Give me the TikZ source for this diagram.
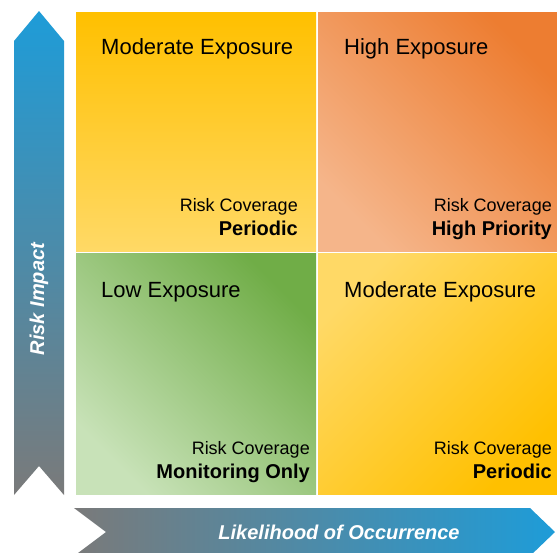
\documentclass[tikz,border=0pt]{standalone}
\usepackage{fontspec}
\setmainfont{Liberation Sans}
\usetikzlibrary{shadings}
\definecolor{cOrange}{HTML}{ED7D31}
\definecolor{cOrangeL}{HTML}{F5B58A}
\definecolor{cGold}{HTML}{FFC000}
\definecolor{cGoldL}{HTML}{FFD966}
\definecolor{cGreen}{HTML}{70AD47}
\definecolor{cGreenL}{HTML}{C8E2B8}
\definecolor{cBlue}{HTML}{1E9CD8}
\definecolor{cGray}{HTML}{7A7A7A}
\tikzset{
  quad/.style={minimum width=240pt, minimum height=239pt, inner sep=0pt, anchor=north west},
  title/.style={anchor=base west, inner sep=0pt, font=\fontsize{22}{24}\selectfont},
  cov/.style={anchor=base east, inner sep=0pt, font=\fontsize{18}{20}\selectfont},
  lvl/.style={anchor=base east, inner sep=0pt, font=\fontsize{20}{22}\selectfont\bfseries},
  axis/.style={inner sep=0pt, text=white, font=\fontsize{20}{22}\selectfont\bfseries\itshape}
}
\begin{document}
\begin{tikzpicture}[x=1pt,y=-1pt]
\useasboundingbox (0,0) rectangle (557,552);
% axis arrows
\shade[top color=cBlue, bottom color=cGray] (14,41) -- (39,11) -- (64,41) -- (64,495) -- (39,466) -- (14,495) -- cycle;
\shade[left color=cGray, right color=cBlue] (74,508) -- (530,508) -- (555,532) -- (530,556) -- (74,556) -- (106,532) -- cycle;
\node[axis, rotate=90] (yl) at (39,299) {Risk Impact};
\node[axis] (xl) at (339,532) {Likelihood of Occurrence};
% quadrants
\node[quad, shade, top color=cGold, bottom color=cGoldL] (tl) at (76,12) {};
\node[quad, shade, top color=cOrange, bottom color=cOrangeL, shading angle=-45] (tr) at (318,12) {};
\node[quad, shade, top color=cGreen, bottom color=cGreenL, shading angle=-45, minimum height=241pt] (bl) at (76,253) {};
\node[quad, shade, top color=cGoldL, bottom color=cGold, shading angle=45, minimum width=239pt, minimum height=241pt] (br) at (318,253) {};
% texts
\node[title] (t1) at (101,54) {Moderate Exposure};
\node[title] (t2) at (344,54) {High Exposure};
\node[title] (t3) at (101,297) {Low Exposure};
\node[title] (t4) at (344,297) {Moderate Exposure};
\node[cov] (c1) at (298,211) {Risk Coverage};
\node[lvl] (l1) at (298,235) {Periodic};
\node[cov] (c2) at (552,211) {Risk Coverage};
\node[lvl] (l2) at (552,235) {High Priority};
\node[cov] (c3) at (310,454) {Risk Coverage};
\node[lvl] (l3) at (310,478) {Monitoring Only};
\node[cov] (c4) at (552,454) {Risk Coverage};
\node[lvl] (l4) at (552,478) {Periodic};
\end{tikzpicture}
\end{document}
